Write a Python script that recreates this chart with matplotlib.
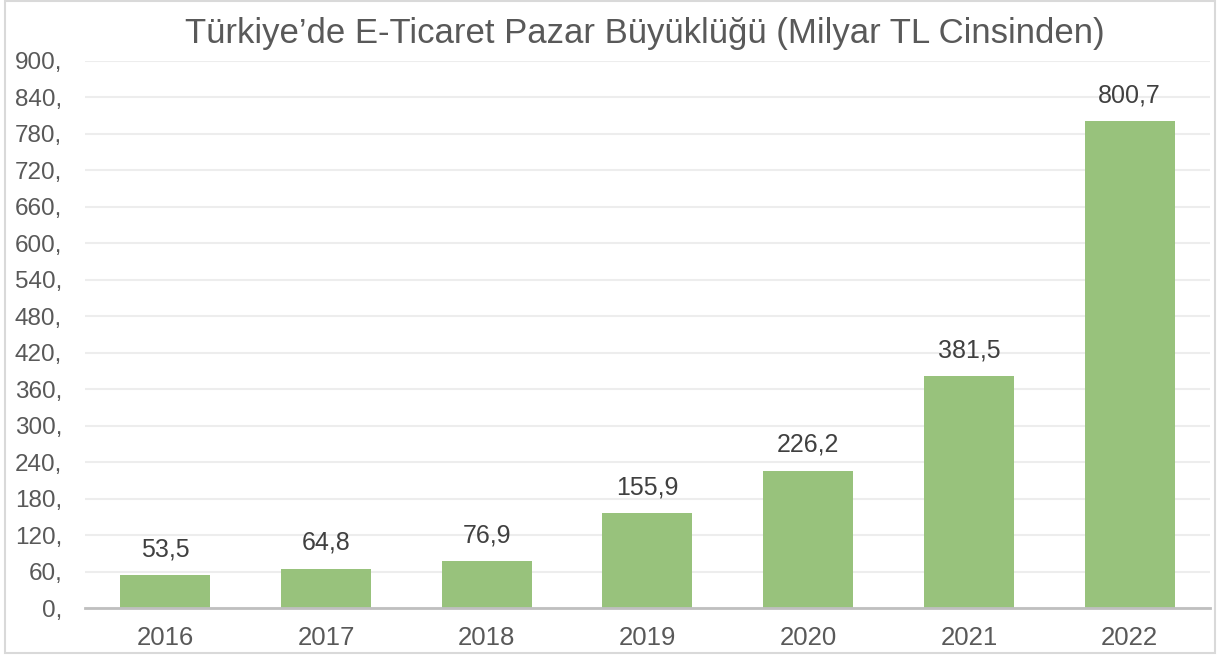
import matplotlib
matplotlib.use('Agg')
import matplotlib.pyplot as plt
from matplotlib.patches import Rectangle

years = ['2016', '2017', '2018', '2019', '2020', '2021', '2022']
values = [53.5, 64.8, 76.9, 155.9, 226.2, 381.5, 800.7]
yticks = list(range(0, 901, 60))

plt.rcParams['font.family'] = ['Liberation Sans', 'DejaVu Sans']
text_color = '#595959'

fig = plt.figure(figsize=(12.19, 6.59), dpi=100)
ax = fig.add_axes([85 / 1219, 51 / 659, 1125 / 1219, 547 / 659])

x = range(len(years))
bars = ax.bar(x, values, width=0.56, color='#98C27C', zorder=3)

for xi, v in zip(x, values):
    ax.annotate(f'{v:.1f}'.replace('.', ','), (xi, v), xytext=(0, 10),
                textcoords='offset points', ha='center', va='bottom',
                fontsize=18, color='#404040')

ax.set_xlim(-0.5, len(years) - 0.5)
ax.set_ylim(0, 900)
ax.set_yticks(yticks)
ax.set_yticklabels([f'{t},' for t in yticks])
ax.set_xticks(list(x))
ax.set_xticklabels(years)
ax.tick_params(axis='both', length=0, labelcolor=text_color)
ax.tick_params(axis='y', pad=16.5, labelsize=17.5)
ax.tick_params(axis='x', pad=13, labelsize=18.5)

ax.grid(axis='y', color='#EDEDED', linewidth=1.5, zorder=0)
for s in ['top', 'right', 'left']:
    ax.spines[s].set_visible(False)
ax.spines['bottom'].set_color('#BFBFBF')
ax.spines['bottom'].set_linewidth(2)
ax.spines['bottom'].set_zorder(4)

fig.text(645 / 1219, 1 - 33 / 659, 'Türkiye’de E-Ticaret Pazar Büyüklüğü (Milyar TL Cinsinden)',
         ha='center', va='center', fontsize=25, color=text_color)

fig.patches.append(Rectangle((5 / 1219, 6 / 659), 1210 / 1219, 652 / 659,
                             transform=fig.transFigure, fill=False,
                             edgecolor='#D9D9D9', linewidth=1.5))

fig.savefig('out.png', dpi=100)
